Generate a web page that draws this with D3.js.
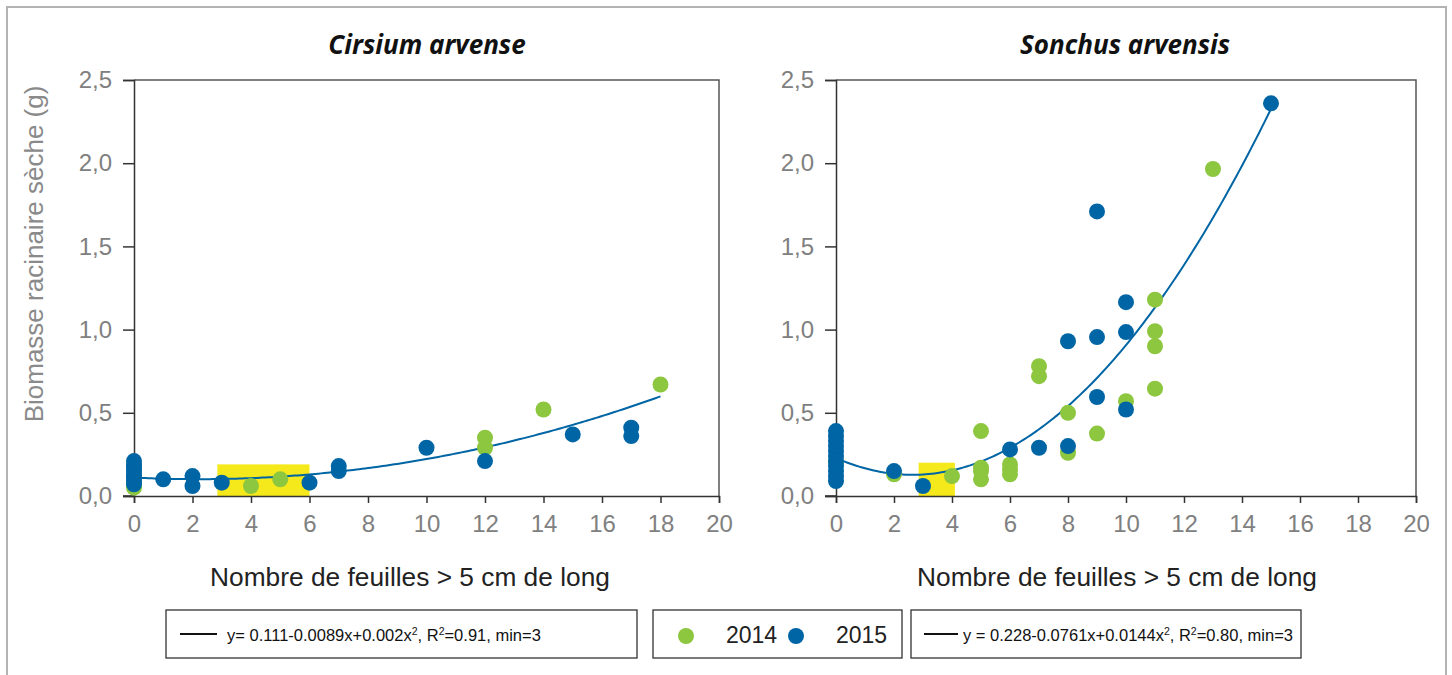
<!DOCTYPE html>
<html>
<head>
<meta charset="utf-8">
<script src="https://cdn.jsdelivr.net/npm/d3@7"></script>
<style>
  body { margin: 0; background: #fff; }
  svg { display: block; font-family: "Liberation Sans", Arial, sans-serif; }
</style>
</head>
<body>
<svg id="chart" width="1452" height="675"></svg>
<script>
// ---- data ----
const xTickValues = [0, 2, 4, 6, 8, 10, 12, 14, 16, 18, 20];
const yTickValues = [0, 0.5, 1, 1.5, 2, 2.5];

const cirsium2014X = [0, 0, 4, 5, 12, 12, 14, 18];
const cirsium2014Y = [0.05, 0.08, 0.06, 0.10, 0.35, 0.29, 0.52, 0.67];
const cirsium2015X = [0, 0, 0, 0, 0, 0, 0, 0, 1, 2, 2, 3, 6, 7, 7, 10, 12, 15, 17, 17];
const cirsium2015Y = [0.07, 0.09, 0.11, 0.13, 0.15, 0.17, 0.19, 0.21, 0.10, 0.12, 0.06, 0.08, 0.08, 0.18, 0.15, 0.29, 0.21, 0.37, 0.41, 0.36];
const cirsiumCoef = [0.111, -0.0089, 0.002];
const cirsiumFitRange = [0, 18];
const cirsiumMinBox = [2.85, 6, 0.19];   // x from, x to, height

const sonchus2014X = [0, 2, 4, 5, 5, 5, 5, 6, 6, 6, 7, 7, 8, 8, 9, 10, 11, 11, 11, 11, 13];
const sonchus2014Y = [0.20, 0.13, 0.12, 0.39, 0.17, 0.15, 0.10, 0.19, 0.16, 0.13, 0.78, 0.72, 0.50, 0.26, 0.375, 0.57, 1.18, 0.99, 0.90, 0.645, 1.965];
const sonchus2015X = [0, 0, 0, 0, 0, 0, 0, 0, 0, 0, 0, 2, 3, 6, 7, 8, 8, 9, 9, 9, 10, 10, 10, 15];
const sonchus2015Y = [0.09, 0.12, 0.15, 0.18, 0.21, 0.24, 0.27, 0.30, 0.33, 0.36, 0.39, 0.15, 0.06, 0.28, 0.29, 0.93, 0.30, 1.71, 0.955, 0.595, 1.165, 0.985, 0.52, 2.36];
const sonchusCoef = [0.228, -0.0761, 0.0144];
const sonchusFitRange = [0, 15];
const sonchusMinBox = [2.85, 4.1, 0.2];

const GREEN = "#8dc63f";
const BLUE = "#0065a4";
const fmt = d => d3.format(".1f")(d).replace(".", ",");

const svg = d3.select("#chart");

// outer frame (open at the bottom)
svg.append("path")
  .attr("d", "M7,676 V7 H1446 V676")
  .attr("fill", "none").attr("stroke", "#b3b3b3").attr("stroke-width", 2);

function drawPanel(opts) {
  const x = d3.scaleLinear().domain([0, 20]).range(opts.xRange);
  const y = d3.scaleLinear().domain([0, 2.5]).range([496, 80]);
  const g = svg.append("g");

  // frame: top and right
  g.append("path")
    .attr("d", `M${x(0)},${y(2.5)} H${x(20)} V${y(0)}`)
    .attr("fill", "none").attr("stroke", "#555").attr("stroke-width", 1.5);

  // minimum highlight
  g.append("rect")
    .attr("x", x(opts.minBox[0])).attr("width", x(opts.minBox[1]) - x(opts.minBox[0]))
    .attr("y", y(opts.minBox[2])).attr("height", y(0) - y(opts.minBox[2]) + 1)
    .attr("fill", "#f5e91c");

  // axes
  const yAxis = g.append("g").attr("transform", `translate(${x(0)},0)`)
    .call(d3.axisLeft(y).tickValues(yTickValues).tickFormat(fmt).tickSize(11).tickPadding(11));
  const xAxis = g.append("g").attr("transform", `translate(0,${y(0)})`)
    .call(d3.axisBottom(x).tickValues(xTickValues).tickSize(7).tickPadding(12));
  [xAxis, yAxis].forEach(a => {
    a.select(".domain").attr("stroke", "#333").attr("stroke-width", 1.5);
    a.selectAll(".tick line").attr("stroke", "#333").attr("stroke-width", 1.5);
    a.selectAll("text").attr("fill", "#808080").attr("font-size", 24)
      .attr("font-family", "'Liberation Sans', Arial, sans-serif");
  });
  // extend x-axis line to the left to meet the y tick
  g.append("line").attr("x1", x(0) - 11).attr("x2", x(0)).attr("y1", y(0)).attr("y2", y(0))
    .attr("stroke", "#333").attr("stroke-width", 1.5);

  // fitted curve
  const c = opts.coef;
  const xs = d3.range(opts.fitRange[0], opts.fitRange[1] + 0.001, 0.1);
  g.append("path")
    .datum(xs)
    .attr("fill", "none").attr("stroke", BLUE).attr("stroke-width", 2)
    .attr("d", d3.line().x(d => x(d)).y(d => y(c[0] + c[1] * d + c[2] * d * d)));

  // points
  const addPts = (xv, yv, col) => g.selectAll(null)
    .data(xv.map((d, i) => [d, yv[i]])).enter().append("circle")
    .attr("cx", d => x(d[0])).attr("cy", d => y(d[1])).attr("r", 8).attr("fill", col);
  addPts(opts.x2014, opts.y2014, GREEN);
  addPts(opts.x2015, opts.y2015, BLUE);

  // titles
  g.append("text").attr("x", opts.titleX).attr("y", 54).attr("text-anchor", "middle")
    .attr("font-family", "'Open Sans', sans-serif").attr("font-weight", "bold").attr("font-style", "italic")
    .attr("font-size", 26).attr("fill", "#111").text(opts.title);
  g.append("text").attr("x", opts.xTitleX).attr("y", 586).attr("text-anchor", "middle")
    .attr("font-size", 26.3).attr("fill", "#222").text("Nombre de feuilles > 5 cm de long");
}

drawPanel({
  xRange: [134, 719], title: "Cirsium arvense", titleX: 427, xTitleX: 410,
  x2014: cirsium2014X, y2014: cirsium2014Y, x2015: cirsium2015X, y2015: cirsium2015Y,
  coef: cirsiumCoef, fitRange: cirsiumFitRange, minBox: cirsiumMinBox
});
drawPanel({
  xRange: [836, 1416], title: "Sonchus arvensis", titleX: 1125, xTitleX: 1117,
  x2014: sonchus2014X, y2014: sonchus2014Y, x2015: sonchus2015X, y2015: sonchus2015Y,
  coef: sonchusCoef, fitRange: sonchusFitRange, minBox: sonchusMinBox
});

// y axis title
svg.append("text").attr("transform", "translate(43,254) rotate(-90)")
  .attr("text-anchor", "middle").attr("font-size", 26).attr("fill", "#8a8a8a")
  .text("Biomasse racinaire sèche (g)");

// ---- legends ----
function eqBox(x0, x1, lineX, textX, parts) {
  svg.append("rect").attr("x", x0).attr("y", 610).attr("width", x1 - x0).attr("height", 48)
    .attr("fill", "#fff").attr("stroke", "#333").attr("stroke-width", 1.3);
  svg.append("line").attr("x1", lineX[0]).attr("x2", lineX[1]).attr("y1", 634).attr("y2", 634)
    .attr("stroke", "#111").attr("stroke-width", 2);
  const t = svg.append("text").attr("x", textX).attr("y", 641).attr("font-size", 16.5).attr("fill", "#111");
  let raised = false;
  parts.forEach(p => {
    const up = p.sup !== undefined;
    const dy = up && !raised ? -6 : (!up && raised ? 6 : 0);
    t.append("tspan").attr("dy", dy).attr("font-size", up ? 10.5 : 16.5).text(up ? p.sup : p.t);
    raised = up;
  });
}
eqBox(166, 637, [180, 217], 227, [
  { t: "y= 0.111-0.0089x+0.002x" }, { sup: "2" }, { t: ", R" }, { sup: "2" }, { t: "=0.91, min=3" }
]);
eqBox(911, 1301, [924, 958], 963, [
  { t: "y = 0.228-0.0761x+0.0144x" }, { sup: "2" }, { t: ", R" }, { sup: "2" }, { t: "=0.80, min=3" }
]);

// year legend
svg.append("rect").attr("x", 653).attr("y", 610).attr("width", 249).attr("height", 48)
  .attr("fill", "#fff").attr("stroke", "#333").attr("stroke-width", 1.3);
const years = ["2014", "2015"];
const yearCols = [GREEN, BLUE];
const yearDotX = [686, 796];
years.forEach((yr, i) => {
  svg.append("circle").attr("cx", yearDotX[i]).attr("cy", 636).attr("r", 8).attr("fill", yearCols[i]);
  svg.append("text").attr("x", yearDotX[i] + 40).attr("y", 643).attr("font-size", 23)
    .attr("fill", "#222").text(yr);
});
</script>
</body>
</html>
